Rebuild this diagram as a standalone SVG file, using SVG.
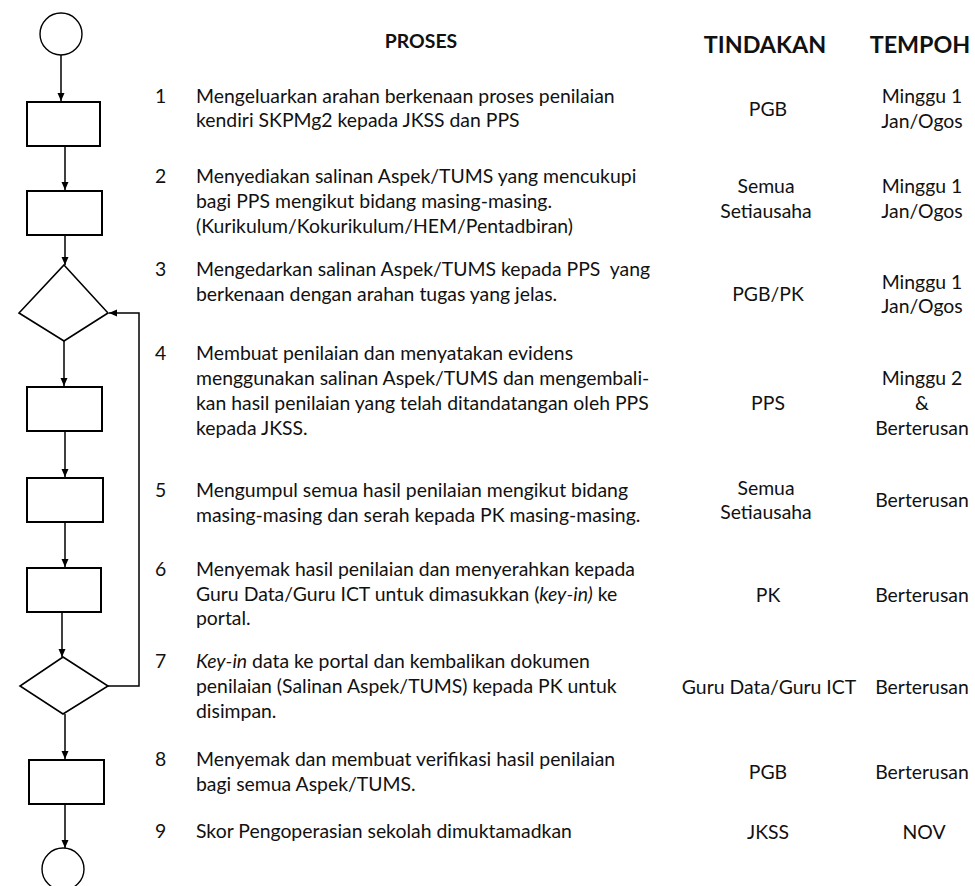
<svg xmlns="http://www.w3.org/2000/svg" width="975" height="886" viewBox="0 0 975 886">
<defs>
<marker id="ah" markerUnits="userSpaceOnUse" markerWidth="9" markerHeight="8" refX="8" refY="3.5" orient="auto">
<path d="M0,0 L8,3.5 L0,7 z" fill="#000"/>
</marker>
<style>
.box{fill:#fff;stroke:#000;stroke-width:2}
.dia{fill:#fff;stroke:#000;stroke-width:1.6}
.ter{fill:#fff;stroke:#000;stroke-width:1.4}
.con{fill:none;stroke:#000;stroke-width:1.5}
.arr{marker-end:url(#ah)}
text{font-family:Lato,"Open Sans","Liberation Sans",sans-serif;font-size:19.4px;fill:#111}
.h{font-weight:bold}
.hb{font-weight:bold;font-size:23.3px}
.c{text-anchor:middle}
</style>
</defs>
<rect width="975" height="886" fill="#fff"/>
<g id="connectors">
<line class="con arr" x1="61" y1="55" x2="61" y2="101"/>
<line class="con arr" x1="65" y1="146" x2="65" y2="190"/>
<line class="con arr" x1="65" y1="235" x2="65" y2="265"/>
<line class="con arr" x1="64" y1="341" x2="64" y2="386"/>
<line class="con arr" x1="65" y1="431" x2="65" y2="477"/>
<line class="con arr" x1="65" y1="522" x2="65" y2="567"/>
<line class="con arr" x1="62" y1="612" x2="62" y2="657"/>
<line class="con arr" x1="65" y1="714" x2="65" y2="759"/>
<line class="con arr" x1="65" y1="804" x2="65" y2="848"/>
<polyline class="con arr" points="108,686 139,686 139,313 109,313"/>
</g>
<g id="start"><circle class="ter" cx="61" cy="34" r="21"/></g>
<g id="step1"><rect class="box" x="27" y="102" width="73" height="44"/></g>
<g id="step2"><rect class="box" x="27" y="191" width="75" height="44"/></g>
<g id="decision1"><polygon class="dia" points="64,265 108,313 64,341 19,313"/></g>
<g id="step4"><rect class="box" x="27" y="387" width="75" height="44"/></g>
<g id="step5"><rect class="box" x="27" y="478" width="76" height="44"/></g>
<g id="step6"><rect class="box" x="27" y="568" width="74" height="44"/></g>
<g id="decision2"><polygon class="dia" points="63,657 108,686 63,714 20,686"/></g>
<g id="step8"><rect class="box" x="29" y="760" width="75" height="44"/></g>
<g id="end"><circle class="ter" cx="63" cy="869" r="21"/></g>

<g id="headers">
<text class="h c" x="421" y="48">PROSES</text>
<text class="hb c" x="765" y="53">TINDAKAN</text>
<text class="hb c" x="920" y="53">TEMPOH</text>
</g>

<g id="row1">
<text x="155" y="103">1</text>
<text x="196" y="103">Mengeluarkan arahan berkenaan proses penilaian</text>
<text x="196" y="127">kendiri SKPMg2 kepada JKSS dan PPS</text>
<text class="c" x="768" y="116">PGB</text>
<text class="c" x="922" y="103">Minggu 1</text>
<text class="c" x="922" y="128">Jan/Ogos</text>
</g>
<g id="row2">
<text x="155" y="183">2</text>
<text x="196" y="183">Menyediakan salinan Aspek/TUMS yang mencukupi</text>
<text x="196" y="208">bagi PPS mengikut bidang masing-masing.</text>
<text x="196" y="233">(Kurikulum/Kokurikulum/HEM/Pentadbiran)</text>
<text class="c" x="766" y="193">Semua</text>
<text class="c" x="766" y="218">Setiausaha</text>
<text class="c" x="922" y="193">Minggu 1</text>
<text class="c" x="922" y="218">Jan/Ogos</text>
</g>
<g id="row3">
<text x="155" y="276">3</text>
<text x="196" y="276" style="white-space:pre">Mengedarkan salinan Aspek/TUMS kepada PPS  yang</text>
<text x="196" y="301">berkenaan dengan arahan tugas yang jelas.</text>
<text class="c" x="768" y="301">PGB/PK</text>
<text class="c" x="922" y="289">Minggu 1</text>
<text class="c" x="922" y="313">Jan/Ogos</text>
</g>
<g id="row4">
<text x="155" y="360">4</text>
<text x="196" y="360">Membuat penilaian dan menyatakan evidens</text>
<text x="196" y="385">menggunakan salinan Aspek/TUMS dan mengembali-</text>
<text x="196" y="410">kan hasil penilaian yang telah ditandatangan oleh PPS</text>
<text x="196" y="435">kepada JKSS.</text>
<text class="c" x="768" y="410">PPS</text>
<text class="c" x="922" y="385">Minggu 2</text>
<text class="c" x="922" y="410">&amp;</text>
<text class="c" x="922" y="435">Berterusan</text>
</g>
<g id="row5">
<text x="155" y="497">5</text>
<text x="196" y="497">Mengumpul semua hasil penilaian mengikut bidang</text>
<text x="196" y="522">masing-masing dan serah kepada PK masing-masing.</text>
<text class="c" x="766" y="495">Semua</text>
<text class="c" x="766" y="519">Setiausaha</text>
<text class="c" x="922" y="507">Berterusan</text>
</g>
<g id="row6">
<text x="155" y="576">6</text>
<text x="196" y="576">Menyemak hasil penilaian dan menyerahkan kepada</text>
<text x="196" y="601">Guru Data/Guru ICT untuk dimasukkan (<tspan font-style="italic">key-in)</tspan> ke</text>
<text x="196" y="625">portal.</text>
<text class="c" x="768" y="602">PK</text>
<text class="c" x="922" y="602">Berterusan</text>
</g>
<g id="row7">
<text x="155" y="668">7</text>
<text x="196" y="668"><tspan font-style="italic">Key-in</tspan> data ke portal dan kembalikan dokumen</text>
<text x="196" y="693">penilaian (Salinan Aspek/TUMS) kepada PK untuk</text>
<text x="196" y="718">disimpan.</text>
<text class="c" x="769" y="694">Guru Data/Guru ICT</text>
<text class="c" x="922" y="694">Berterusan</text>
</g>
<g id="row8">
<text x="155" y="766">8</text>
<text x="196" y="766">Menyemak dan membuat verifikasi hasil penilaian</text>
<text x="196" y="791">bagi semua Aspek/TUMS.</text>
<text class="c" x="768" y="779">PGB</text>
<text class="c" x="922" y="779">Berterusan</text>
</g>
<g id="row9">
<text x="155" y="838">9</text>
<text x="196" y="838">Skor Pengoperasian sekolah dimuktamadkan</text>
<text class="c" x="768" y="839">JKSS</text>
<text class="c" x="924" y="839">NOV</text>
</g>
</svg>
